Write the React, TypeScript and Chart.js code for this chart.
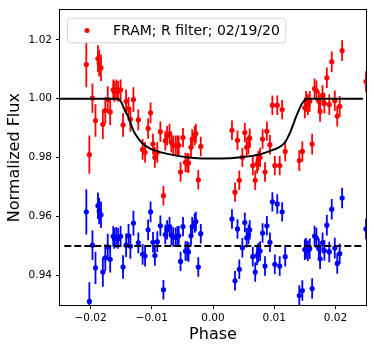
import React, { useEffect, useRef } from 'react';
import { Chart, registerables } from 'chart.js';

Chart.register(...registerables);

// ---- data ----
const phase = [
  -0.0207, -0.0202, -0.0197, -0.0192, -0.0188, -0.0186, -0.0183, -0.0180, -0.0176, -0.0172,
  -0.0168, -0.0163, -0.0161, -0.0158, -0.0155, -0.0151, -0.0147, -0.0142, -0.0138, -0.0135,
  -0.0130, -0.0122, -0.0115, -0.0111, -0.0106, -0.0102, -0.0098, -0.0095, -0.0091, -0.0086,
  -0.0081, -0.0078, -0.0075, -0.0071, -0.0068, -0.0065, -0.0061, -0.0058, -0.0056, -0.0053,
  -0.0049, -0.0045, -0.0042, -0.0040, -0.0036, -0.0034, -0.0030, -0.0028, -0.0024, -0.0020,
  0.0031, 0.0036, 0.0040, 0.0043, 0.0048, 0.0052, 0.0055, 0.0058, 0.0060, 0.0065,
  0.0069, 0.0072, 0.0074, 0.0077, 0.0081, 0.0085, 0.0088, 0.0093, 0.0097, 0.0101,
  0.0105, 0.0109, 0.0113, 0.0118, 0.0141, 0.0146, 0.0150, 0.0152, 0.0155, 0.0158,
  0.0162, 0.0166, 0.0169, 0.0173, 0.0175, 0.0179, 0.0182, 0.0186, 0.0190, 0.0194,
  0.0199, 0.0203, 0.0207, 0.0211, 0.0250,
];

const redFlux = [
  1.0116, 0.9810, 1.0002, 0.9926, 1.0136, 1.0120, 1.0105, 0.9913, 0.9960, 0.9997,
  0.9955, 1.0030, 1.0025, 1.0030, 1.0025, 1.0030, 0.9911, 0.9991, 0.9966, 0.9930,
  0.9997, 0.9928, 0.9828, 0.9818, 0.9899, 0.9952, 0.9846, 0.9801, 0.9818, 0.9888,
  0.9671, 0.9857, 0.9874, 0.9882, 0.9851, 0.9842, 0.9842, 0.9842, 0.9842, 0.9751,
  0.9868, 0.9784, 0.9782, 0.9782, 0.9835, 0.9863, 0.9874, 0.9882, 0.9725, 0.9838,
  0.9893, 0.9683, 0.9859, 0.9723, 0.9801, 0.9885, 0.9835, 0.9844, 0.9866, 0.9773,
  0.9723, 0.9779, 0.9790, 0.9801, 0.9863, 0.9751, 0.9890, 0.9844, 0.9978, 0.9773,
  0.9978, 0.9773, 0.9963, 0.9821, 0.9790, 0.9821, 0.9969, 0.9991, 0.9980, 0.9991,
  0.9846, 1.0034, 1.0027, 0.9991, 0.9957, 1.0011, 0.9985, 1.0071, 0.9980, 1.0125,
  0.9993, 0.9941, 0.9974, 1.0163, 1.0058,
];

const blueFlux = [
  0.9616, 0.9312, 0.9503, 0.9426, 0.9637, 0.9619, 0.9606, 0.9412, 0.9460, 0.9497,
  0.9455, 0.9533, 0.9526, 0.9530, 0.9526, 0.9533, 0.9429, 0.9503, 0.9535, 0.9499,
  0.9578, 0.9511, 0.9472, 0.9466, 0.9555, 0.9616, 0.9513, 0.9468, 0.9515, 0.9569,
  0.9352, 0.9539, 0.9555, 0.9566, 0.9537, 0.9531, 0.9530, 0.9535, 0.9535, 0.9448,
  0.9566, 0.9483, 0.9483, 0.9480, 0.9535, 0.9566, 0.9578, 0.9583, 0.9429, 0.9542,
  0.9592, 0.9382, 0.9558, 0.9421, 0.9494, 0.9580, 0.9528, 0.9539, 0.9555, 0.9464,
  0.9412, 0.9468, 0.9477, 0.9483, 0.9544, 0.9432, 0.9569, 0.9513, 0.9650, 0.9438,
  0.9643, 0.9432, 0.9616, 0.9464, 0.9332, 0.9349, 0.9488, 0.9492, 0.9484, 0.9491,
  0.9356, 0.9534, 0.9527, 0.9491, 0.9457, 0.9511, 0.9485, 0.9571, 0.9480, 0.9625,
  0.9493, 0.9441, 0.9474, 0.9663, 0.9558,
];

const fluxErr = [
  0.0077, 0.0065, 0.0050, 0.0055, 0.0045, 0.0045, 0.0045, 0.0050, 0.0045, 0.0045,
  0.0045, 0.0035, 0.0035, 0.0035, 0.0035, 0.0035, 0.0040, 0.0040, 0.0040, 0.0042,
  0.0042, 0.0035, 0.0035, 0.0035, 0.0035, 0.0035, 0.0035, 0.0035, 0.0035, 0.0035,
  0.0033, 0.0033, 0.0033, 0.0033, 0.0033, 0.0033, 0.0033, 0.0033, 0.0033, 0.0033,
  0.0033, 0.0033, 0.0033, 0.0033, 0.0033, 0.0033, 0.0033, 0.0033, 0.0033, 0.0033,
  0.0033, 0.0033, 0.0033, 0.0033, 0.0033, 0.0033, 0.0033, 0.0033, 0.0033, 0.0033,
  0.0033, 0.0033, 0.0033, 0.0033, 0.0033, 0.0033, 0.0033, 0.0033, 0.0033, 0.0033,
  0.0033, 0.0033, 0.0033, 0.0033, 0.0035, 0.0035, 0.0035, 0.0035, 0.0035, 0.0035,
  0.0035, 0.0035, 0.0035, 0.0035, 0.0035, 0.0035, 0.0035, 0.0035, 0.0035, 0.0035,
  0.0035, 0.0035, 0.0035, 0.0035, 0.0035,
];

const modelPhase = [
  -0.0250, -0.0156, -0.0152, -0.0148, -0.0144, -0.0139, -0.0135, -0.0131, -0.0127, -0.0123,
  -0.0119, -0.0115, -0.0110, -0.0101, -0.0085, -0.0058, -0.0031, 0.0000, 0.0013, 0.0045,
  0.0078, 0.0099, 0.0110, 0.0118, 0.0122, 0.0127, 0.0131, 0.0135, 0.0139, 0.0143,
  0.0147, 0.0151, 0.0155, 0.0159, 0.0245,
];
const modelFlux = [
  1.0, 1.0, 0.9995, 0.998, 0.996, 0.9941, 0.9918, 0.9896, 0.988, 0.9868,
  0.9857, 0.9848, 0.984, 0.9829, 0.9818, 0.9806, 0.9799, 0.9797, 0.9797, 0.9801,
  0.9812, 0.9827, 0.9838, 0.9853, 0.9868, 0.989, 0.9912, 0.9935, 0.9955, 0.9974,
  0.9988, 0.9997, 1.0, 1.0, 1.0,
];

const baselinePhase = [-0.0243, 0.0245];
const baselineFlux = [0.95, 0.95];

const xTicks = [-0.02, -0.01, 0.0, 0.01, 0.02];
const yTicks = [0.94, 0.96, 0.98, 1.0, 1.02];

const legendLabel = 'FRAM; R filter; 02/19/20';
const xTitle = 'Phase';
const yTitle = 'Normalized Flux';

const RED = '#ff0000';
const BLUE = '#0000ff';
const FONT = '"DejaVu Sans", "Liberation Sans", sans-serif';

function fmtTick(v: number): string {
  const s = Math.abs(v).toFixed(2);
  return v < -1e-9 ? '\u2212' + s : s;
}

const errorBarPlugin = {
  id: 'errorBars',
  beforeDatasetsDraw(chart: any) {
    const { ctx, chartArea, scales } = chart;
    const x = scales.x;
    const y = scales.y;
    ctx.save();
    ctx.beginPath();
    ctx.rect(chartArea.left, chartArea.top, chartArea.right - chartArea.left, chartArea.bottom - chartArea.top);
    ctx.clip();
    ctx.lineWidth = 1.8;
    chart.data.datasets.forEach((ds: any) => {
      if (!ds.errors) return;
      ctx.strokeStyle = ds.backgroundColor;
      ds.data.forEach((p: any, i: number) => {
        const px = x.getPixelForValue(p.x);
        ctx.beginPath();
        ctx.moveTo(px, y.getPixelForValue(p.y - ds.errors[i]));
        ctx.lineTo(px, y.getPixelForValue(p.y + ds.errors[i]));
        ctx.stroke();
      });
    });
    ctx.restore();
  },
};

const framePlugin = {
  id: 'frame',
  afterDatasetsDraw(chart: any) {
    const { ctx, chartArea } = chart;
    ctx.save();
    ctx.strokeStyle = '#000';
    ctx.lineWidth = 1;
    ctx.strokeRect(
      Math.round(chartArea.left) - 0.5,
      Math.round(chartArea.top) - 0.5,
      Math.round(chartArea.right - chartArea.left) + 1,
      Math.round(chartArea.bottom - chartArea.top) + 1
    );
    ctx.restore();
  },
};

const legendPlugin = {
  id: 'customLegend',
  afterDraw(chart: any) {
    const { ctx, chartArea } = chart;
    ctx.save();
    ctx.font = `14px ${FONT}`;
    const tw = ctx.measureText(legendLabel).width;
    const bx = chartArea.left + 7.5;
    const by = chartArea.top + 8;
    const bh = 24.5;
    const textOff = 45.5;
    const bw = textOff + tw + 6;
    const r = 3;
    ctx.beginPath();
    ctx.moveTo(bx + r, by);
    ctx.lineTo(bx + bw - r, by);
    ctx.quadraticCurveTo(bx + bw, by, bx + bw, by + r);
    ctx.lineTo(bx + bw, by + bh - r);
    ctx.quadraticCurveTo(bx + bw, by + bh, bx + bw - r, by + bh);
    ctx.lineTo(bx + r, by + bh);
    ctx.quadraticCurveTo(bx, by + bh, bx, by + bh - r);
    ctx.lineTo(bx, by + r);
    ctx.quadraticCurveTo(bx, by, bx + r, by);
    ctx.closePath();
    ctx.fillStyle = 'rgba(255,255,255,0.8)';
    ctx.fill();
    ctx.strokeStyle = '#d5d5d5';
    ctx.lineWidth = 1;
    ctx.stroke();
    ctx.fillStyle = RED;
    ctx.beginPath();
    ctx.arc(bx + 19.5, by + bh / 2, 2.5, 0, Math.PI * 2);
    ctx.fill();
    ctx.fillStyle = '#000';
    ctx.textBaseline = 'middle';
    ctx.textAlign = 'left';
    ctx.fillText(legendLabel, bx + textOff, by + bh / 2 + 0.5);
    ctx.restore();
  },
};

export default function App() {
  const canvasRef = useRef<HTMLCanvasElement | null>(null);

  useEffect(() => {
    const canvas = canvasRef.current;
    if (!canvas) return;

    const redData = phase.map((x, i) => ({ x, y: redFlux[i] }));
    const blueData = phase.map((x, i) => ({ x, y: blueFlux[i] }));
    const modelData = modelPhase.map((x, i) => ({ x, y: modelFlux[i] }));
    const baseData = baselinePhase.map((x, i) => ({ x, y: baselineFlux[i] }));

    const tickFont = { family: FONT, size: 10.5 };
    const titleFont = { family: FONT, size: 16 };

    const chart = new Chart(canvas, {
      type: 'scatter',
      data: {
        datasets: [
          {
            label: legendLabel,
            data: redData,
            backgroundColor: RED,
            borderColor: RED,
            borderWidth: 0,
            pointRadius: 2.6,
            showLine: false,
            order: 2,
            clip: 0,
            errors: fluxErr,
          } as any,
          {
            label: 'residuals',
            data: blueData,
            backgroundColor: BLUE,
            borderColor: BLUE,
            borderWidth: 0,
            pointRadius: 2.6,
            showLine: false,
            order: 2,
            clip: 0,
            errors: fluxErr,
          } as any,
          {
            label: 'model',
            data: modelData,
            borderColor: '#000',
            backgroundColor: '#000',
            borderWidth: 2,
            pointRadius: 0,
            showLine: true,
            cubicInterpolationMode: 'monotone',
            order: 0,
          } as any,
          {
            label: 'baseline',
            data: baseData,
            borderColor: '#000',
            backgroundColor: '#000',
            borderWidth: 2,
            borderDash: [7, 3],
            pointRadius: 0,
            showLine: true,
            order: 0,
          } as any,
        ],
      },
      options: {
        animation: false,
        responsive: false,
        maintainAspectRatio: false,
        layout: { padding: { top: 7, right: 8, left: 0, bottom: 0 } },
        plugins: {
          legend: { display: false },
          tooltip: { enabled: false },
        },
        scales: {
          x: {
            type: 'linear',
            min: -0.025,
            max: 0.025,
            afterBuildTicks: (scale: any) => {
              scale.ticks = xTicks.map((v) => ({ value: v }));
            },
            afterFit: (scale: any) => {
              scale.height = 47;
            },
            ticks: {
              autoSkip: false,
              maxRotation: 0,
              color: '#000',
              font: tickFont,
              padding: 3,
              callback: (v: any) => fmtTick(Number(v)),
            },
            grid: {
              drawOnChartArea: false,
              drawTicks: true,
              tickLength: 4,
              color: '#000',
              lineWidth: 1,
            },
            border: { display: false },
            title: {
              display: true,
              text: xTitle,
              color: '#000',
              font: titleFont,
              padding: { top: 0, bottom: 8 },
            },
          },
          y: {
            type: 'linear',
            min: 0.93,
            max: 1.03,
            afterBuildTicks: (scale: any) => {
              scale.ticks = yTicks.map((v) => ({ value: v }));
            },
            afterFit: (scale: any) => {
              scale.width = 60;
            },
            ticks: {
              autoSkip: false,
              color: '#000',
              font: tickFont,
              padding: 4,
              callback: (v: any) => fmtTick(Number(v)),
            },
            grid: {
              drawOnChartArea: false,
              drawTicks: true,
              tickLength: 4,
              color: '#000',
              lineWidth: 1,
            },
            border: { display: false },
            title: {
              display: true,
              text: yTitle,
              color: '#000',
              font: titleFont,
              padding: { top: 5.5, bottom: 0 },
            },
          },
        },
      },
      plugins: [errorBarPlugin, framePlugin, legendPlugin],
    } as any);

    return () => {
      chart.destroy();
    };
  }, []);

  return (
    <div style={{ position: 'fixed', left: 0, top: 0, width: 374, height: 352, background: '#fff' }}>
      <canvas ref={canvasRef} width={374} height={352} style={{ display: 'block' }} />
    </div>
  );
}
